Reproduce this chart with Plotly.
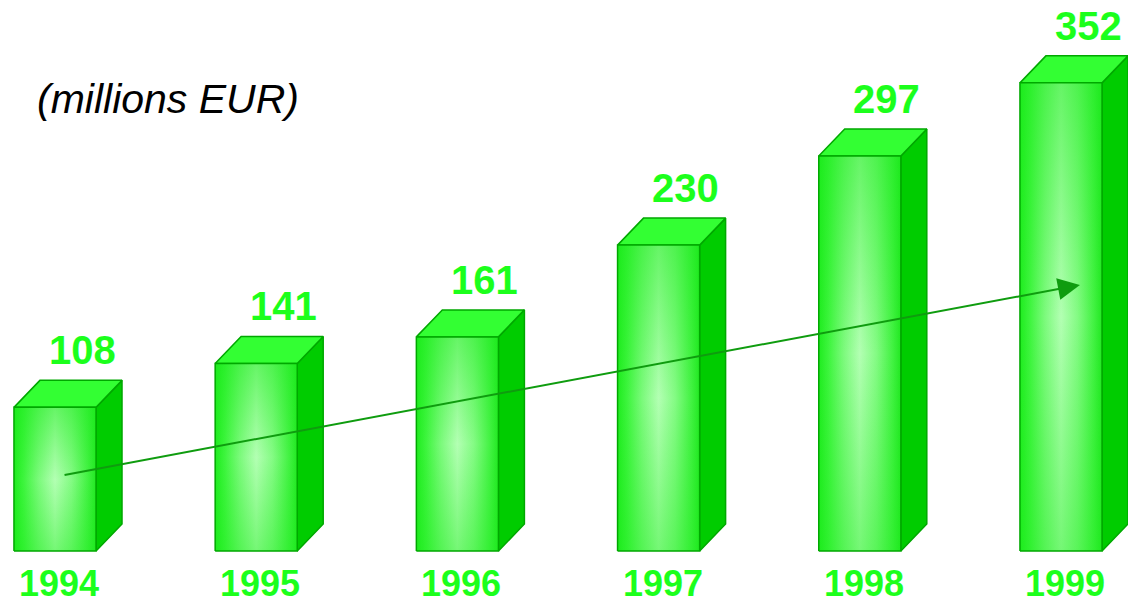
import plotly.graph_objects as go

years = ["1994", "1995", "1996", "1997", "1998", "1999"]
values = [108, 141, 161, 230, 297, 352]
unit_label = "(millions EUR)"

# styling
HALF_W = 0.204      # half bar width (x units)
DX = 0.129          # depth offset x
DY = 20.3           # depth offset y (value units)
EDGE = "#00a800"
TOP_COL = "#33ff33"
SIDE_COL = "#00cc00"
TEXT_COL = "#1cff1c"
FONT = "Liberation Sans, Arial"

fig = go.Figure()

for i, v in enumerate(values):
    xl, xr = i - HALF_W, i + HALF_W
    # side face
    fig.add_trace(go.Scatter(
        x=[xr, xr + DX, xr + DX, xr, xr], y=[0, DY, v + DY, v, 0],
        fill="toself", fillcolor=SIDE_COL, mode="lines",
        line=dict(color=EDGE, width=1.5), hoverinfo="skip", showlegend=False))
    # top face
    fig.add_trace(go.Scatter(
        x=[xl, xr, xr + DX, xl + DX, xl], y=[v, v, v + DY, v + DY, v],
        fill="toself", fillcolor=TOP_COL, mode="lines",
        line=dict(color=EDGE, width=1.5), hoverinfo="skip", showlegend=False))
    # front face with horizontal gradient
    fig.add_trace(go.Scatter(
        x=[xl, xr, xr, xl, xl], y=[0, 0, v, v, 0],
        fill="toself", mode="lines",
        fillgradient=dict(type="horizontal",
                          colorscale=[[0, "#1fec1f"], [0.12, "#3ef53e"],
                                      [0.3, "#7bfa7b"], [0.5, "#b3ffb3"],
                                      [0.7, "#84fb84"], [0.9, "#42f242"],
                                      [1, "#22e822"]]),
        line=dict(color=EDGE, width=0), hoverinfo="skip", showlegend=False))
    # vertical shading overlay on front face
    fig.add_trace(go.Scatter(
        x=[xl, xr, xr, xl, xl], y=[0, 0, v, v, 0],
        fill="toself", mode="lines",
        fillgradient=dict(type="vertical",
                          colorscale=[[0, "rgba(25,235,25,0.4)"],
                                      [0.5, "rgba(25,235,25,0)"],
                                      [1, "rgba(25,235,25,0.5)"]]),
        line=dict(color=EDGE, width=1.5), hoverinfo="skip", showlegend=False))
    # value label
    fig.add_annotation(x=i + 0.135, y=v + DY, text=f"<b>{v}</b>",
                       showarrow=False, yanchor="bottom", yshift=6,
                       font=dict(family=FONT, size=40, color=TEXT_COL))
    # year label
    fig.add_annotation(x=i + 0.02, y=0, text=f"<b>{years[i]}</b>",
                       showarrow=False, yanchor="top", yshift=-10,
                       font=dict(family=FONT, size=36, color=TEXT_COL))

# trend arrow
fig.add_annotation(x=5.094, y=200, ax=0.04, ay=57, xref="x", yref="y",
                   axref="x", ayref="y", text="", showarrow=True,
                   arrowhead=2, arrowsize=2.2, arrowwidth=2, arrowcolor="#0f9c0f")

fig.add_annotation(x=0.031, y=0.835, xref="paper", yref="paper", xanchor="left",
                   yanchor="middle", text=f"<i>{unit_label}</i>", showarrow=False,
                   font=dict(family=FONT, size=41, color="#000000"))

fig.update_xaxes(range=[-0.2734, 5.333], visible=False, showgrid=False, zeroline=False)
fig.update_yaxes(range=[-39.1, 414.3], visible=False, showgrid=False, zeroline=False)
fig.update_layout(width=1128, height=603, margin=dict(l=0, r=0, t=0, b=0),
                  plot_bgcolor="white", paper_bgcolor="white")

fig.write_html("out.html", config={"displayModeBar": False},
               post_script="document.body.style.margin='0';document.body.style.overflow='hidden';")
